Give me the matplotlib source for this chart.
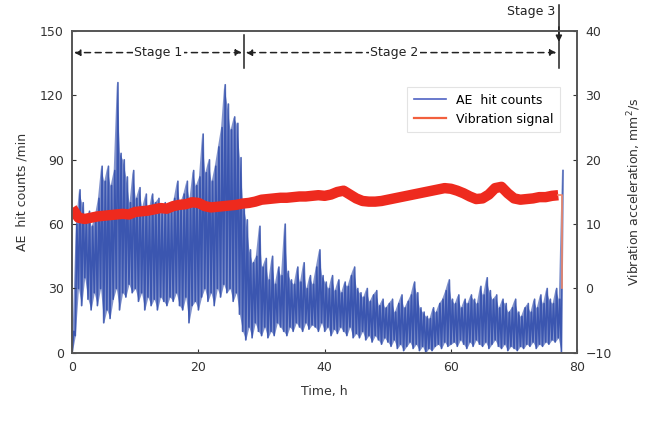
import numpy as np
import matplotlib.pyplot as plt
from matplotlib.lines import Line2D

# AE hit counts: upper / lower swing of the trace every 0.5 h (t = 0 .. 77.5 h)
ae_step = 0.5
ae_hi = [10, 60, 76, 70, 62, 66, 59, 64, 72, 87,
         80, 87, 78, 85, 126, 93, 90, 82, 70, 85,
         72, 77, 68, 74, 66, 74, 70, 72, 65, 70,
         69, 66, 72, 80, 70, 74, 80, 72, 85, 78,
         82, 102, 84, 90, 80, 87, 96, 105, 125, 116,
         104, 110, 107, 91, 70, 62, 48, 42, 45, 59,
         40, 44, 34, 45, 32, 40, 36, 60, 38, 34,
         32, 40, 33, 42, 30, 36, 32, 40, 48, 36,
         33, 30, 36, 29, 34, 28, 33, 31, 36, 40,
         30, 28, 26, 30, 24, 27, 29, 22, 25, 21,
         23, 25, 19, 23, 27, 21, 24, 27, 33, 28,
         21, 19, 17, 16, 21, 19, 23, 25, 29, 34,
         25, 23, 27, 21, 25, 23, 27, 25, 23, 31,
         27, 35, 29, 25, 27, 21, 25, 23, 19, 21,
         25, 19, 17, 21, 23, 19, 25, 21, 27, 23,
         30, 25, 23, 30, 25, 85]
ae_lo = [0, 8, 30, 22, 35, 25, 20, 28, 22, 30,
         14, 20, 16, 25, 30, 20, 28, 26, 32, 28,
         30, 24, 28, 20, 26, 22, 25, 20, 26, 24,
         22, 26, 24, 28, 22, 20, 26, 14, 22, 24,
         20, 26, 30, 24, 28, 22, 30, 26, 32, 28,
         30, 24, 28, 18, 10, 6, 12, 7, 14, 10,
         8, 12, 7, 10, 8, 14, 12, 10, 8, 12,
         10, 14, 12, 10, 14, 11, 13, 12, 10, 14,
         10, 12, 8, 11, 9, 12, 10, 8, 12, 7,
         9, 7, 10, 6, 8, 5, 8, 6, 4, 7,
         5, 3, 6, 2, 4, 1, 3, 5, 2, 4,
         1, 3, 0, 2, 1, 3, 4, 2, 5, 3,
         4, 5, 3, 6, 4, 2, 5, 3, 6, 4,
         3, 5, 2, 4, 6, 3, 2, 4, 1, 3,
         2, 1, 3, 2, 4, 3, 5, 2, 4, 3,
         5, 4, 6, 5, 7, 0]

# vibration acceleration (mm^2/s), centre of the band every 1 h (t = 0 .. 77 h)
vib = [12.5, 11.0, 10.8, 11.0, 11.2, 11.3, 11.4, 11.5, 11.6, 11.5,
       11.9, 12.0, 12.1, 12.3, 12.5, 12.4, 12.8, 13.0, 13.1, 13.4,
       13.3, 12.8, 12.6, 12.7, 12.8, 12.9, 13.0, 13.2, 13.3, 13.5,
       13.8, 13.9, 14.0, 14.1, 14.1, 14.2, 14.3, 14.3, 14.4, 14.5,
       14.4, 14.6, 15.0, 15.2, 14.6, 14.0, 13.6, 13.5, 13.5, 13.6,
       13.8, 14.0, 14.2, 14.4, 14.6, 14.8, 15.0, 15.2, 15.4, 15.6,
       15.5, 15.2, 14.8, 14.3, 13.9, 14.0, 14.6, 15.6, 15.8, 14.8,
       14.0, 13.8, 13.9, 14.0, 14.2, 14.2, 14.4, 14.5]
vib_end_t = 77.6
vib_end_v = 0.0

stage_bounds = [0, 27.2, 77.1]
stage_names = ["Stage 1", "Stage 2", "Stage 3"]

blue = '#2f4cab'
red = '#ee2a1e'

fig = plt.figure(figsize=(6.5, 4.21), dpi=100)
ax = fig.add_axes([0.111, 0.162, 0.777, 0.764])
ax2 = ax.twinx()

# AE trace: band between the swings, dense zig-zag on top
t_ae = np.arange(len(ae_hi)) * ae_step
ax.fill_between(t_ae, ae_lo, ae_hi, color=blue, alpha=0.6, lw=0)
xs = np.column_stack([t_ae, t_ae + ae_step / 2]).ravel()
ys = np.column_stack([ae_lo, ae_hi]).ravel()
ax.plot(xs, ys, color=blue, lw=1.2, alpha=0.85)

# vibration band
t_vib = np.arange(len(vib))
ax2.plot(t_vib, vib, color=red, lw=7.5, solid_capstyle='butt')
ax2.plot([t_vib[-1], vib_end_t, vib_end_t], [vib[-1], vib[-1], vib_end_v],
         color='#f28a6a', lw=1.2)

ax.set_xlim(0, 80)
ax.set_ylim(0, 150)
ax.set_yticks([0, 30, 60, 90, 120, 150])
ax.set_xticks([0, 20, 40, 60, 80])
ax2.set_ylim(-10, 40)
ax2.set_yticks([-10, 0, 10, 20, 30, 40])

for a in (ax, ax2):
    a.tick_params(direction='in', length=3, labelsize=9, colors='#333333',
                  pad=6)
    for s in a.spines.values():
        s.set_color('#555555')
        s.set_linewidth(1.2)

ax.set_xlabel('Time, h', fontsize=9, color='#333333', labelpad=8)
ax.set_ylabel('AE  hit counts /min', fontsize=9, color='#333333', labelpad=8)
ax2.set_ylabel('Vibration acceleration, mm$^2$/s', fontsize=9,
               color='#333333', labelpad=10)

# stage markers
y_st = 140
arr = dict(arrowstyle='<|-|>', linestyle=(0, (4, 3)), color='#222222',
           lw=1.1, mutation_scale=9, shrinkA=0, shrinkB=0)
ax.annotate('', xy=(stage_bounds[0] + 0.3, y_st),
            xytext=(stage_bounds[1] - 0.3, y_st), arrowprops=arr)
ax.annotate('', xy=(stage_bounds[1] + 0.3, y_st),
            xytext=(stage_bounds[2] - 0.4, y_st), arrowprops=arr)
ax.text(13.6, y_st, stage_names[0], ha='center', va='center', fontsize=9,
        color='#222222', bbox=dict(fc='white', ec='none', pad=1))
ax.text(51, y_st, stage_names[1], ha='center', va='center', fontsize=9,
        color='#222222', bbox=dict(fc='white', ec='none', pad=1))
ax.plot([stage_bounds[1]] * 2, [133, 148], color='#222222', lw=1.1)
ax.plot([stage_bounds[2]] * 2, [133, 162], color='#222222', lw=1.1,
        clip_on=False)
ax.annotate('', xy=(stage_bounds[2], 145), xytext=(stage_bounds[2], 152),
            arrowprops=dict(arrowstyle='-|>', color='#222222', lw=1.1,
                            mutation_scale=9, shrinkA=0, shrinkB=0),
            annotation_clip=False)
ax.text(stage_bounds[2] - 0.6, 159, stage_names[2], ha='right', va='center',
        fontsize=9, color='#222222', clip_on=False)

handles = [Line2D([], [], color='#4f62c4', lw=1.2),
           Line2D([], [], color='#f2603e', lw=1.6)]
leg = ax2.legend(handles, ['AE  hit counts', 'Vibration signal'],
                 loc='upper right', bbox_to_anchor=(0.978, 0.845),
                 fontsize=9, frameon=True, fancybox=False,
                 handlelength=2.6, borderpad=0.5, labelspacing=0.5)
leg.get_frame().set_edgecolor('#dddddd')
leg.get_frame().set_linewidth(0.8)

fig.savefig('out.png', dpi=100)
